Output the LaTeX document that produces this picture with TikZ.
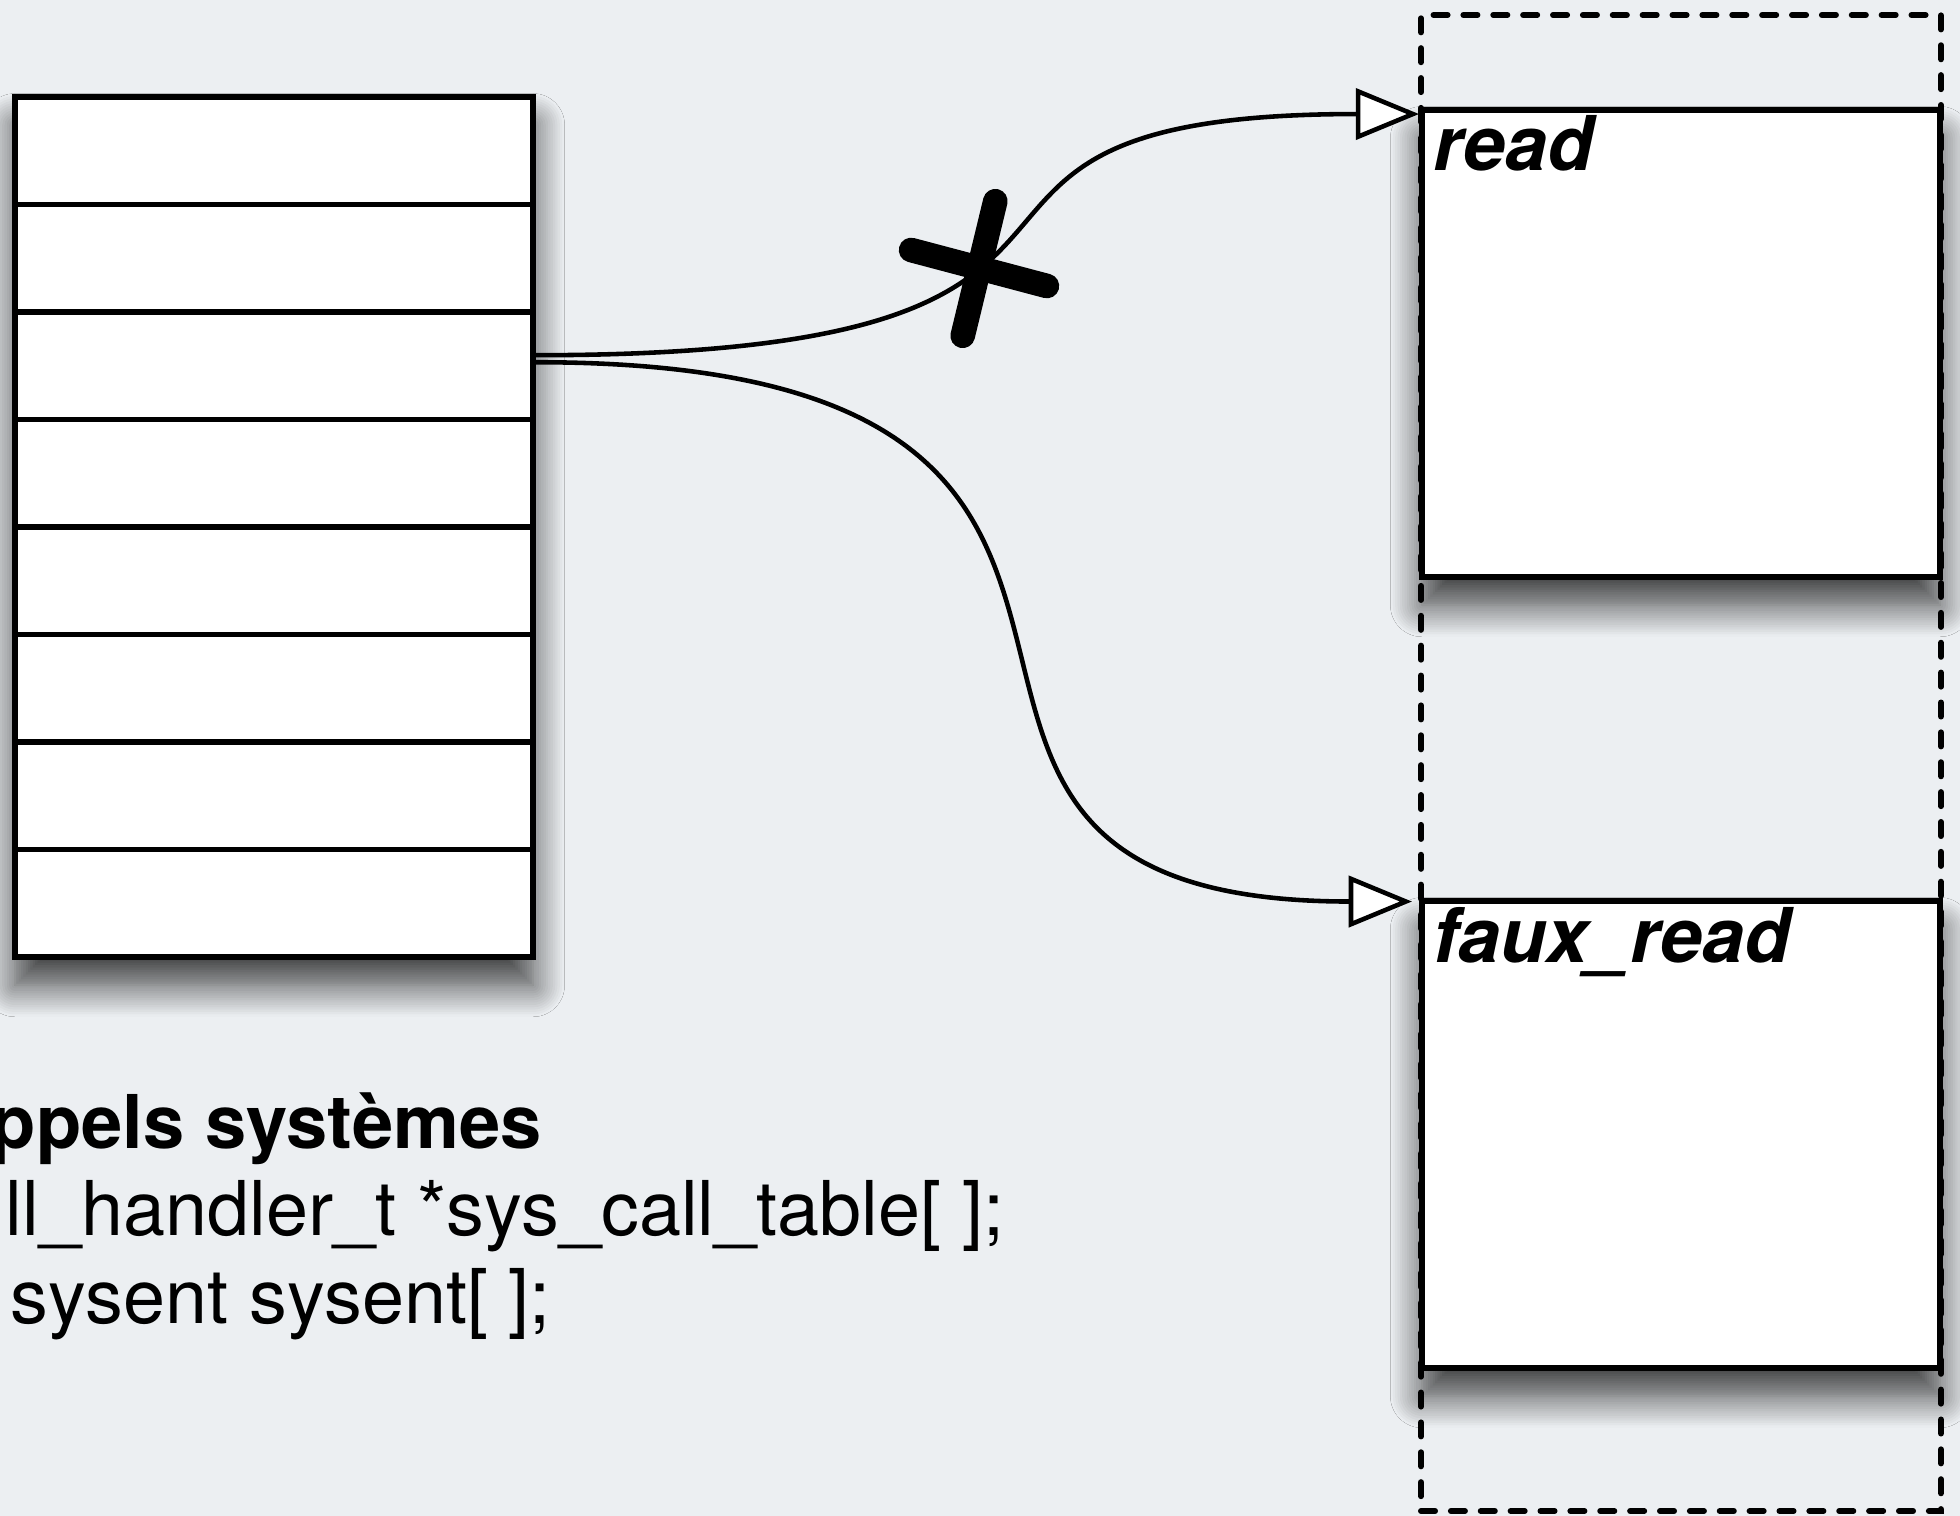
\documentclass[tikz,border=0pt]{standalone}
\usepackage{fontspec}
\setmainfont{TeX Gyre Heros}
\usetikzlibrary{arrows.meta,shadows.blur}
\definecolor{slidebg}{RGB}{236,239,242}

\begin{document}
\begin{tikzpicture}[x=1mm,y=-1mm,
  box/.style={draw, rectangle, fill=white, line width=1.7pt, inner sep=0pt, minimum width=5.18cm},
  slot/.style={box, minimum height=1.075cm},
  softshadow/.style={blur shadow={shadow xshift=0pt, shadow yshift=-8pt, shadow blur radius=9pt, shadow opacity=75, shadow blur steps=14, shadow blur extra rounding=0pt}},
  group/.style={draw, rectangle, line width=1.7pt, dash pattern=on 4pt off 4.5pt, line cap=round, inner sep=0pt},
  link/.style={line width=1.3pt, -{Triangle[fill=white, length=18pt, width=14.5pt]}},
  cutmark/.style={line width=7pt, line cap=round},
  lbl/.style={font=\fontsize{21.5}{26}\selectfont\bfseries\itshape, inner sep=0pt, anchor=base west},
  caption/.style={font=\fontsize{21.5}{26}\selectfont, inner sep=0pt, anchor=base west}]
\fill[slidebg] (0,0) rectangle (196,151.6);
\useasboundingbox (0,0) rectangle (196,151.6);

% memoire noyau
\node[group, minimum width=5.2cm, minimum height=14.96cm] (mem) at (168.1,76.3) {};
\node[box, softshadow, minimum height=4.67cm] (read) at (168.1,34.35) {};
\node[box, softshadow, minimum height=4.67cm] (faux) at (168.1,113.45) {};
\node[lbl] (readname) at ([shift={(1.4,6.3)}]read.north west) {read};
\node[lbl] (fauxname) at ([shift={(1.4,6.4)}]faux.north west) {faux\_read};

% table
\node[box, softshadow, minimum height=8.6cm] (table) at (27.4,52.7) {};
\foreach \i in {1,...,8}
  \node[slot] (row\i) at (27.4,{9.7+10.75*(\i-0.5)}) {};

\draw[link] ([yshift=3pt]row3.east) .. controls +(70,0) and +(-58,0) .. ([yshift=-2pt]read.north west);
\draw[link] ([yshift=1pt]row3.east) .. controls +(77,0) and +(-64,0) .. ([xshift=-2pt,yshift=-1pt]faux.north west);

\coordinate (cut) at (97.9,26.8);
\draw[cutmark] (cut) ++(1.63,-6.68) -- ++(-3.26,13.46);
\draw[cutmark] (cut) ++(-6.79,-1.8) -- ++(13.58,3.6);

\node[caption, font=\fontsize{21.1}{26}\selectfont\bfseries] (title) at (-1.0,114.8) {ppels systèmes};
\node[caption] (decl) at (0.5,123.5) {ll\_handler\_t *sys\_call\_table[ ];};
\node[caption] (sysent) at (1.0,132.3) {sysent sysent[ ];};
\end{tikzpicture}
\end{document}
